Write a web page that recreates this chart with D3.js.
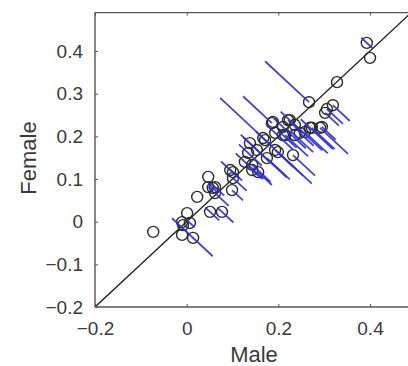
<!DOCTYPE html>
<html>
<head>
<meta charset="utf-8">
<script src="https://cdn.jsdelivr.net/npm/d3@7"></script>
<style>
    body { margin: 0; background: #fff; }
    svg { display: block; font-family: "Liberation Sans", Arial, sans-serif; }
</style>
</head>
<body>
<div id="chart"></div>
<script>
// Data (male, female estimates and the blue segment extents)
const male = [-0.073, -0.010, -0.008, -0.010, 0.014, 0.001, 0.007, 0.023, 0.047, 0.047,
    0.062, 0.051, 0.077, 0.062, 0.099, 0.101, 0.095, 0.101, 0.057, 0.127,
    0.134, 0.143, 0.153, 0.156, 0.167, 0.171, 0.186, 0.188, 0.193, 0.193,
    0.199, 0.210, 0.215, 0.225, 0.236, 0.232, 0.175, 0.138, 0.221, 0.267,
    0.269, 0.273, 0.291, 0.295, 0.302, 0.306, 0.319, 0.328, 0.393, 0.400,
    0.247, 0.236, 0.258, 0.210, 0.143];
const female = [-0.024, -0.001, -0.008, -0.031, -0.038, 0.020, -0.003, 0.058, 0.105, 0.081,
    0.081, 0.023, 0.023, 0.067, 0.074, 0.116, 0.121, 0.102, 0.079, 0.140,
    0.161, 0.133, 0.168, 0.116, 0.196, 0.191, 0.231, 0.234, 0.168, 0.208,
    0.163, 0.222, 0.203, 0.238, 0.227, 0.156, 0.149, 0.184, 0.238, 0.280,
    0.220, 0.220, 0.220, 0.222, 0.255, 0.264, 0.273, 0.327, 0.419, 0.384,
    0.208, 0.203, 0.210, 0.203, 0.121];
// extent of each blue segment toward upper-left / lower-right (in male units)
const segUp = [0, 0, 0, 0, 0.046, 0, 0.01, 0, 0, 0,
    0.01, 0.01, 0.01, 0, 0, 0.01, 0.02, 0, 0.01, 0.02,
    0.02, 0, 0.03, 0, 0.094, 0.02, 0.063, 0, 0, 0.02,
    0, 0.02, 0, 0.02, 0, 0, 0, 0.02, 0, 0.096,
    0.02, 0, 0, 0, 0, 0, 0, 0, 0.012, 0,
    0, 0.01, 0, 0.01, 0.01];
const segDown = [0, 0, 0, 0, 0.043, 0, 0.01, 0, 0, 0.01,
    0.02, 0.02, 0.025, 0.03, 0.024, 0.02, 0.02, 0.03, 0.01, 0.04,
    0.03, 0.04, 0.03, 0.03, 0.02, 0.083, 0, 0, 0.04, 0.04,
    0.074, 0.05, 0.05, 0.03, 0.06, 0.048, 0.05, 0.08, 0.03, 0,
    0.05, 0.05, 0.061, 0.03, 0.03, 0.035, 0.037, 0, 0.012, 0,
    0.03, 0.04, 0.05, 0.03, 0.02];
const xTicks = [-0.2, 0, 0.2, 0.4];
const yTicks = [-0.2, -0.1, 0, 0.1, 0.2, 0.3, 0.4];

const WIDTH = 408;
const HEIGHT = 366;
const X_MAX = 0.5;     // right frame edge, outside the window
const Y_MAX = 0.49;    // top frame edge
const SLOPE = 1.0;     // female change per male change along a blue segment
const TEXT_COLOR = '#3a3a3a';

const svg = d3.select('#chart')
    .append('svg')
    .attr('width', WIDTH)
    .attr('height', HEIGHT);

const x = d3.scaleLinear().domain([-0.2, 0.4]).range([95, 370]);
const y = d3.scaleLinear().domain([-0.2, 0.4]).range([307, 51]);

const points = male.map((m, i) => ({
    m, f: female[i], up: segUp[i], down: segDown[i]
}));

// Clip to the axes box
svg.append('defs')
    .append('clipPath')
    .attr('id', 'plot-clip')
    .append('rect')
    .attr('x', x(-0.2))
    .attr('y', y(Y_MAX))
    .attr('width', x(X_MAX) - x(-0.2))
    .attr('height', y(-0.2) - y(Y_MAX));

const plot = svg.append('g').attr('clip-path', 'url(#plot-clip)');

// Identity line
plot.append('line')
    .attr('x1', x(-0.2))
    .attr('y1', y(-0.2))
    .attr('x2', x(X_MAX))
    .attr('y2', y(X_MAX))
    .style('stroke', '#222')
    .style('stroke-width', 1.4);

// Open circles
plot.selectAll('.pt')
    .data(points)
    .enter()
    .append('circle')
    .attr('class', 'pt')
    .attr('cx', d => x(d.m))
    .attr('cy', d => y(d.f))
    .attr('r', 5.5)
    .style('fill', 'none')
    .style('stroke', '#2b2b2b')
    .style('stroke-width', 1.4);

// Blue segments
plot.selectAll('.seg')
    .data(points.filter(d => d.up + d.down > 0))
    .enter()
    .append('line')
    .attr('class', 'seg')
    .attr('x1', d => x(d.m - d.up))
    .attr('y1', d => y(d.f + d.up * SLOPE))
    .attr('x2', d => x(d.m + d.down))
    .attr('y2', d => y(d.f - d.down * SLOPE))
    .style('stroke', '#3030d0')
    .style('stroke-width', 1.8)
    .style('opacity', 0.9);

// Frame
const frame = svg.append('g').style('stroke', '#555').style('stroke-width', 1.4);
frame.append('line')
    .attr('x1', x(-0.2)).attr('y1', y(-0.2))
    .attr('x2', x(X_MAX)).attr('y2', y(-0.2));
frame.append('line')
    .attr('x1', x(-0.2)).attr('y1', y(Y_MAX))
    .attr('x2', x(X_MAX)).attr('y2', y(Y_MAX));
frame.append('line')
    .attr('x1', x(-0.2)).attr('y1', y(-0.2))
    .attr('x2', x(-0.2)).attr('y2', y(Y_MAX));

// Axes with inward ticks
const bottomAxis = d3.axisBottom(x)
    .tickValues(xTicks)
    .tickSizeInner(-3)
    .tickSizeOuter(0)
    .tickPadding(15)
    .tickFormat(d => d === 0 ? '0' : d3.format('.1f')(d));

const topAxis = d3.axisTop(x)
    .tickValues(xTicks)
    .tickSizeInner(-3)
    .tickSizeOuter(0)
    .tickFormat('');

const leftAxis = d3.axisLeft(y)
    .tickValues(yTicks)
    .tickSizeInner(-3)
    .tickSizeOuter(0)
    .tickPadding(12)
    .tickFormat(d => d === 0 ? '0' : d3.format('.1f')(d));

function styleAxis(g) {
    g.select('.domain').remove();
    g.selectAll('.tick line').style('stroke', '#555');
    g.selectAll('.tick text')
        .style('font-size', '19px')
        .style('fill', TEXT_COLOR)
        .style('font-family', '"Liberation Sans", Arial, sans-serif');
}

svg.append('g')
    .attr('transform', `translate(0,${y(-0.2)})`)
    .call(bottomAxis)
    .call(styleAxis);

svg.append('g')
    .attr('transform', `translate(0,${y(Y_MAX)})`)
    .call(topAxis)
    .call(styleAxis);

svg.append('g')
    .attr('transform', `translate(${x(-0.2)},0)`)
    .call(leftAxis)
    .call(styleAxis);

// Axis titles
svg.append('text')
    .attr('x', 254)
    .attr('y', 362)
    .attr('text-anchor', 'middle')
    .style('font-size', '22px')
    .style('fill', TEXT_COLOR)
    .text('Male');

svg.append('text')
    .attr('transform', 'translate(36,158) rotate(-90)')
    .attr('text-anchor', 'middle')
    .style('font-size', '22px')
    .style('fill', TEXT_COLOR)
    .text('Female');
</script>
</body>
</html>
